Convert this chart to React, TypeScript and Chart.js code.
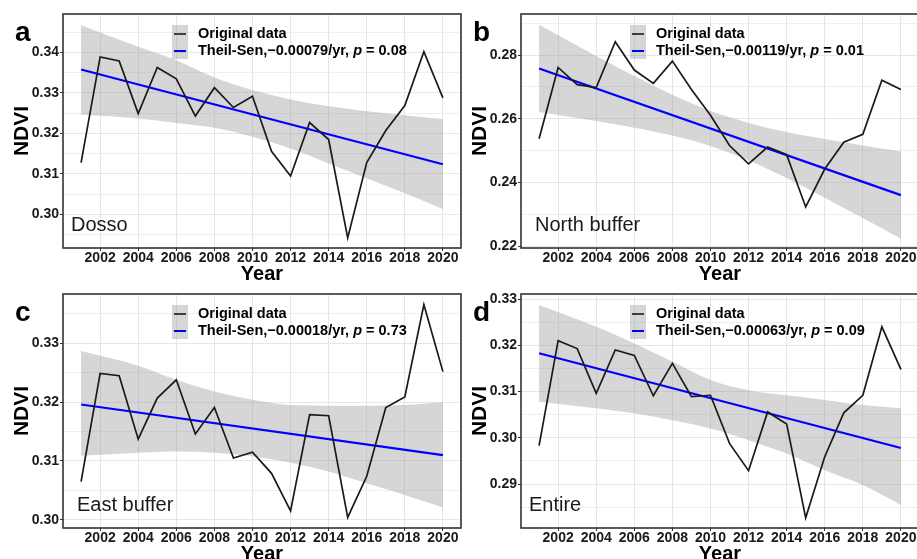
import { useEffect, useRef } from 'react';
import { Chart, registerables } from 'chart.js';

Chart.register(...registerables);

// ---- data -------------------------------------------------------------
const years = [2001, 2002, 2003, 2004, 2005, 2006, 2007, 2008, 2009, 2010,
  2011, 2012, 2013, 2014, 2015, 2016, 2017, 2018, 2019, 2020];
const yearTicks = [2002, 2004, 2006, 2008, 2010, 2012, 2014, 2016, 2018, 2020];

const dossoNdvi = [0.3128, 0.3389, 0.3379, 0.3249, 0.3363, 0.3335, 0.3243, 0.3313, 0.3264, 0.3292,
  0.3156, 0.3095, 0.3227, 0.3185, 0.2942, 0.3128, 0.3207, 0.3269, 0.3402, 0.3288];
const northNdvi = [0.2537, 0.2761, 0.2707, 0.2698, 0.2842, 0.2753, 0.2711, 0.2781, 0.2692, 0.2611,
  0.2516, 0.2458, 0.2511, 0.2487, 0.2323, 0.2442, 0.2526, 0.2551, 0.2721, 0.2692];
const eastNdvi = [0.3065, 0.3249, 0.3245, 0.3137, 0.3207, 0.3238, 0.3146, 0.3191, 0.3105, 0.3115,
  0.3079, 0.3015, 0.3179, 0.3177, 0.3004, 0.3074, 0.3191, 0.3209, 0.3366, 0.3252];
const entireNdvi = [0.2983, 0.3210, 0.3193, 0.3096, 0.3190, 0.3178, 0.3091, 0.3161, 0.3089, 0.3092,
  0.2988, 0.2929, 0.3056, 0.3030, 0.2827, 0.2959, 0.3054, 0.3092, 0.3240, 0.3148];

// Theil-Sen trend line end points (first and last year)
const trendYears = [2001, 2020];
const dossoTrend = [0.3358, 0.3124];
const northTrend = [0.2758, 0.2360];
const eastTrend = [0.3196, 0.3110];
const entireTrend = [0.3183, 0.2978];

// confidence ribbon
const bandYears = [2001, 2004, 2006, 2008, 2010, 2012, 2014, 2016, 2018, 2020];
const dossoUpper = [0.3467, 0.3414, 0.3381, 0.3338, 0.3307, 0.3284, 0.3267, 0.3255, 0.3245, 0.3235];
const dossoLower = [0.3247, 0.3237, 0.3226, 0.3214, 0.3192, 0.3163, 0.3126, 0.3089, 0.3052, 0.3013];
const northUpper = [0.2895, 0.2797, 0.2734, 0.2675, 0.2624, 0.2587, 0.2558, 0.2536, 0.2516, 0.2497];
const northLower = [0.2621, 0.2593, 0.2572, 0.2547, 0.2514, 0.2469, 0.2414, 0.2352, 0.2288, 0.2223];
const eastUpper = [0.3287, 0.3262, 0.3238, 0.3218, 0.3204, 0.3195, 0.3194, 0.3194, 0.3195, 0.3200];
const eastLower = [0.3109, 0.3114, 0.3116, 0.3114, 0.3108, 0.3097, 0.3082, 0.3062, 0.3042, 0.3021];
const entireUpper = [0.3287, 0.3240, 0.3204, 0.3165, 0.3125, 0.3103, 0.3092, 0.3082, 0.3071, 0.3064];
const entireLower = [0.3078, 0.3064, 0.3053, 0.3038, 0.3020, 0.2995, 0.2966, 0.2930, 0.2898, 0.2855];

// labelled y ticks
const dossoYTicks = [0.30, 0.31, 0.32, 0.33, 0.34];
const northYTicks = [0.22, 0.24, 0.26, 0.28];
const eastYTicks = [0.30, 0.31, 0.32, 0.33];
const entireYTicks = [0.29, 0.30, 0.31, 0.32, 0.33];

const panelLetters = ['a', 'b', 'c', 'd'];
const regionNames = ['Dosso', 'North buffer', 'East buffer', 'Entire'];
const slopeLabels = ['\u22120.00079', '\u22120.00119', '\u22120.00018', '\u22120.00063'];
const pValues = ['0.08', '0.01', '0.73', '0.09'];

// ---- styling ----------------------------------------------------------
const FONT = '"Liberation Sans", Arial, Helvetica, sans-serif';
const LINE_COLOR = '#1a1a1a';
const TREND_COLOR = '#0000ff';
const BAND_FILL = 'rgba(153,153,153,0.4)';
const GRID_MAJOR = '#e6e6e6';
const GRID_MINOR = '#eeeeee';
const CANVAS_W = 462;
const CANVAS_H = 280;

type PanelSpec = {
  letter: string;
  region: string;
  regionX: number;
  slope: string;
  pValue: string;
  values: number[];
  trend: number[];
  upper: number[];
  lower: number[];
  yTicks: number[];
  yMin: number;
  yMax: number;
  left: number;
  top: number;
};

const panels: PanelSpec[] = [
  { letter: panelLetters[0], region: regionNames[0], regionX: 71, slope: slopeLabels[0], pValue: pValues[0],
    values: dossoNdvi, trend: dossoTrend, upper: dossoUpper, lower: dossoLower,
    yTicks: dossoYTicks, yMin: 0.2917, yMax: 0.3495, left: 0, top: 0 },
  { letter: panelLetters[1], region: regionNames[1], regionX: 77, slope: slopeLabels[1], pValue: pValues[1],
    values: northNdvi, trend: northTrend, upper: northUpper, lower: northLower,
    yTicks: northYTicks, yMin: 0.2194, yMax: 0.2929, left: 458, top: 0 },
  { letter: panelLetters[2], region: regionNames[2], regionX: 77, slope: slopeLabels[2], pValue: pValues[2],
    values: eastNdvi, trend: eastTrend, upper: eastUpper, lower: eastLower,
    yTicks: eastYTicks, yMin: 0.2986, yMax: 0.3384, left: 0, top: 280 },
  { letter: panelLetters[3], region: regionNames[3], regionX: 71, slope: slopeLabels[3], pValue: pValues[3],
    values: entireNdvi, trend: entireTrend, upper: entireUpper, lower: entireLower,
    yTicks: entireYTicks, yMin: 0.2805, yMax: 0.3311, left: 458, top: 280 },
];

const toPoints = (xs: number[], ys: number[]) => xs.map((x, i) => ({ x, y: ys[i] }));

// frame, legend, region name and panel letter
function decorPlugin(p: PanelSpec) {
  return {
    id: 'panelDecor',
    afterDraw(chart: any) {
      const { ctx, chartArea: a } = chart;
      ctx.save();
      ctx.strokeStyle = '#333';
      ctx.lineWidth = 1.6;
      ctx.strokeRect(a.left, a.top, a.right - a.left, a.bottom - a.top);

      // legend keys
      ctx.fillStyle = BAND_FILL;
      ctx.fillRect(172, 25, 16, 34);
      ctx.lineCap = 'butt';
      ctx.strokeStyle = LINE_COLOR;
      ctx.lineWidth = 1.6;
      ctx.beginPath();
      ctx.moveTo(174, 34);
      ctx.lineTo(186, 34);
      ctx.stroke();
      ctx.strokeStyle = TREND_COLOR;
      ctx.lineWidth = 2;
      ctx.beginPath();
      ctx.moveTo(174, 51);
      ctx.lineTo(186, 51);
      ctx.stroke();

      // legend labels
      ctx.fillStyle = '#000';
      ctx.textAlign = 'left';
      ctx.textBaseline = 'middle';
      const bold = `bold 14.5px ${FONT}`;
      ctx.font = bold;
      ctx.fillText('Original data', 198, 34);
      let x = 198;
      const head = `Theil-Sen,${p.slope}/yr, `;
      ctx.fillText(head, x, 51);
      x += ctx.measureText(head).width;
      ctx.font = `italic bold 14.5px ${FONT}`;
      ctx.fillText('p', x, 51);
      x += ctx.measureText('p').width;
      ctx.font = bold;
      ctx.fillText(` = ${p.pValue}`, x, 51);

      // region name
      ctx.font = `20px ${FONT}`;
      ctx.fillStyle = '#1a1a1a';
      ctx.fillText(p.region, p.regionX, 225);

      // panel letter
      ctx.font = `bold 28px ${FONT}`;
      ctx.fillStyle = '#000';
      ctx.textBaseline = 'alphabetic';
      ctx.fillText(p.letter, 15, 41);
      ctx.restore();
    },
  };
}

function Panel({ spec }: { spec: PanelSpec }) {
  const ref = useRef<HTMLCanvasElement>(null);

  useEffect(() => {
    const canvas = ref.current;
    if (!canvas) return;
    const step = spec.yTicks[1] - spec.yTicks[0];
    const yAll: number[] = [];
    for (let i = 0; i < spec.yTicks.length; i++) {
      yAll.push(spec.yTicks[i] - step / 2, spec.yTicks[i]);
    }
    yAll.push(spec.yTicks[spec.yTicks.length - 1] + step / 2);
    const yInRange = yAll.filter((v) => v >= spec.yMin && v <= spec.yMax);
    const isMajorY = (v: number) => spec.yTicks.some((t) => Math.abs(t - v) < 1e-6);

    const chart = new Chart(canvas, {
      type: 'line',
      data: {
        datasets: [
          {
            data: toPoints(years, spec.values),
            borderColor: LINE_COLOR,
            borderWidth: 1.7,
            pointRadius: 0,
            tension: 0,
            fill: false,
          },
          {
            data: toPoints(trendYears, spec.trend),
            borderColor: TREND_COLOR,
            borderWidth: 2.2,
            pointRadius: 0,
            fill: false,
          },
          {
            data: toPoints(bandYears, spec.upper),
            borderWidth: 0,
            borderColor: 'rgba(0,0,0,0)',
            backgroundColor: BAND_FILL,
            pointRadius: 0,
            cubicInterpolationMode: 'monotone',
            fill: '+1',
          },
          {
            data: toPoints(bandYears, spec.lower),
            borderWidth: 0,
            borderColor: 'rgba(0,0,0,0)',
            pointRadius: 0,
            cubicInterpolationMode: 'monotone',
            fill: false,
          },
        ],
      },
      options: {
        responsive: false,
        animation: false,
        devicePixelRatio: 1,
        layout: { padding: { left: 0, top: 14, right: 1, bottom: 0 } },
        plugins: { legend: { display: false }, tooltip: { enabled: false } },
        scales: {
          x: {
            type: 'linear',
            min: 2000.05,
            max: 2020.95,
            afterBuildTicks: (s: any) => {
              s.ticks = yearTicks.map((v) => ({ value: v }));
            },
            afterFit: (s: any) => {
              s.height = 32;
            },
            ticks: {
              autoSkip: false,
              maxRotation: 0,
              padding: 0,
              color: '#1a1a1a',
              font: { family: FONT, size: 14, weight: 'bold', lineHeight: 1 },
              callback: (v: any) => String(v),
            },
            grid: {
              color: GRID_MAJOR,
              lineWidth: 1,
              tickLength: 3,
              tickColor: '#333',
            },
            border: { display: false },
            title: {
              display: true,
              text: 'Year',
              color: '#000',
              padding: 0,
              font: { family: FONT, size: 20, weight: 'bold', lineHeight: 0.6 },
            },
          },
          y: {
            type: 'linear',
            min: spec.yMin,
            max: spec.yMax,
            afterBuildTicks: (s: any) => {
              s.ticks = yInRange.map((v) => ({ value: v }));
            },
            afterFit: (s: any) => {
              s.width = 63;
            },
            ticks: {
              padding: 1,
              color: '#1a1a1a',
              font: { family: FONT, size: 14, weight: 'bold', lineHeight: 1 },
              callback: (v: any) => (isMajorY(Number(v)) ? Number(v).toFixed(2) : ''),
            },
            grid: {
              color: (c: any) => (c.tick && isMajorY(c.tick.value) ? GRID_MAJOR : GRID_MINOR),
              lineWidth: 1,
              tickLength: 3,
              tickColor: (c: any) => (c.tick && isMajorY(c.tick.value) ? '#333' : 'rgba(0,0,0,0)'),
            },
            border: { display: false },
            title: {
              display: true,
              text: 'NDVI',
              color: '#000',
              padding: { top: 12, bottom: 0 },
              font: { family: FONT, size: 21, weight: 'bold', lineHeight: 1 },
            },
          },
        },
      } as any,
      plugins: [decorPlugin(spec)],
    });

    return () => chart.destroy();
  }, [spec]);

  return (
    <div style={{ position: 'absolute', left: spec.left, top: spec.top, width: CANVAS_W, height: CANVAS_H }}>
      <canvas ref={ref} width={CANVAS_W} height={CANVAS_H} style={{ display: 'block' }} />
    </div>
  );
}

export default function App() {
  return (
    <div
      style={{
        position: 'absolute',
        left: 0,
        top: 0,
        width: 917,
        height: 559,
        overflow: 'hidden',
        background: '#fff',
      }}
    >
      {panels.map((p) => (
        <Panel key={p.letter} spec={p} />
      ))}
    </div>
  );
}
